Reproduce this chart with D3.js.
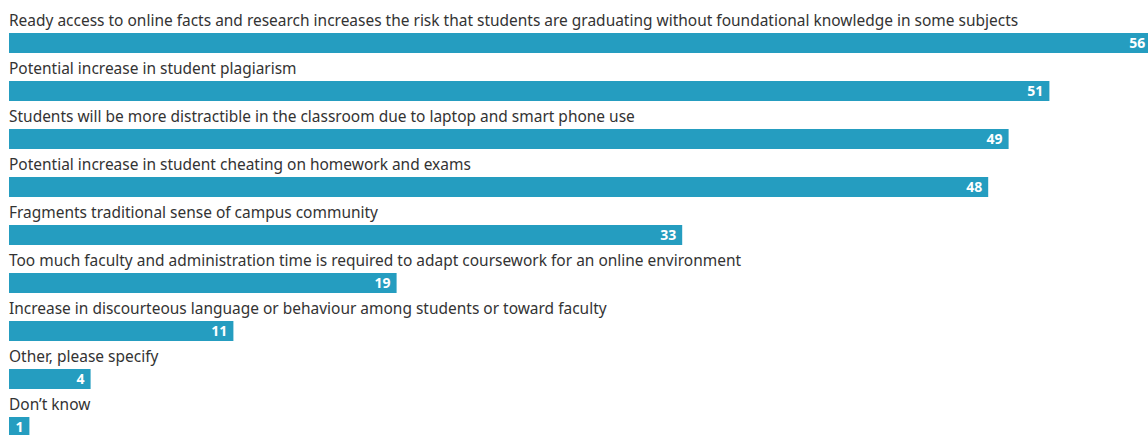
<!DOCTYPE html>
<html>
<head>
<meta charset="utf-8">
<script src="https://cdn.jsdelivr.net/npm/d3@7/dist/d3.min.js"></script>
<style>
  html, body { margin: 0; padding: 0; background: #ffffff; }
  svg { display: block; }
</style>
</head>
<body>
<svg id="chart" width="1148" height="435"></svg>
<script>
// Survey responses: concerns about online learning (percent)
const categories = [
  "Ready access to online facts and research increases the risk that students are graduating without foundational knowledge in some subjects",
  "Potential increase in student plagiarism",
  "Students will be more distractible in the classroom due to laptop and smart phone use",
  "Potential increase in student cheating on homework and exams",
  "Fragments traditional sense of campus community",
  "Too much faculty and administration time is required to adapt coursework for an online environment",
  "Increase in discourteous language or behaviour among students or toward faculty",
  "Other, please specify",
  "Don\u2019t know"
];
const values = [56, 51, 49, 48, 33, 19, 11, 4, 1];

const width = 1148, height = 435;
const left = 9;
const rowStep = 48, firstBarTop = 33, barHeight = 20;

const svg = d3.select("#chart");

const x = d3.scaleLinear().domain([0, 50]).range([left, left + 50 * 20.4]);
const y = d3.scaleBand()
  .domain(categories)
  .range([firstBarTop, firstBarTop + rowStep * categories.length])
  .paddingInner(0).paddingOuter(0);

const row = svg.selectAll("g.row")
  .data(categories.map((c, i) => ({ c, v: values[i] })))
  .join("g")
  .attr("class", "row")
  .attr("transform", d => `translate(0,${y(d.c)})`);

// Category label, horizontally tightened to a condensed look
row.append("text")
  .attr("transform", `translate(${left},-7) scale(0.91,1)`)
  .attr("fill", "#333333")
  .style("font-family", "'Noto Sans', sans-serif")
  .style("font-size", "17px")
  .text(d => d.c);

row.append("rect")
  .attr("x", x(0))
  .attr("y", 0)
  .attr("width", d => x(d.v) - x(0))
  .attr("height", barHeight)
  .attr("fill", "#259dc0");

row.append("text")
  .attr("x", d => x(d.v) - 6)
  .attr("y", 15)
  .attr("text-anchor", "end")
  .attr("fill", "#ffffff")
  .style("font-family", "'Noto Sans', sans-serif")
  .style("font-weight", "bold")
  .style("font-size", "14px")
  .text(d => d.v);
</script>
</body>
</html>
